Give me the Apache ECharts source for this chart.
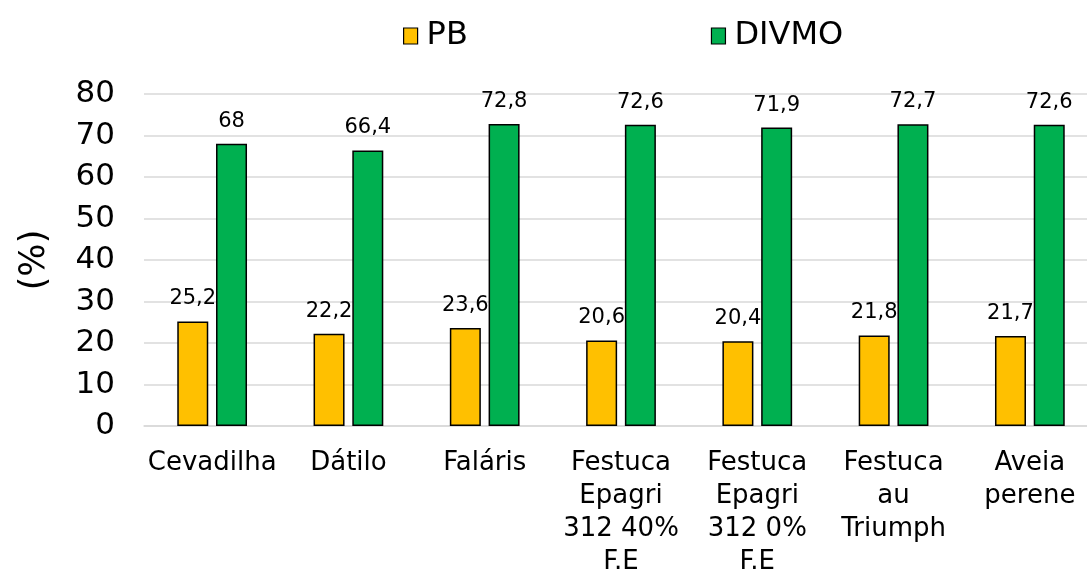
<!DOCTYPE html>
<html>
<head>
<meta charset="utf-8">
<script src="https://cdn.jsdelivr.net/npm/echarts@6/dist/echarts.min.js"></script>
<style>
  html, body { margin: 0; padding: 0; background: #fff; }
  #chart { width: 1087px; height: 569px; }
</style>
</head>
<body>
<div id="chart"></div>
<script>
const categories = [
  'Cevadilha',
  'Dátilo',
  'Faláris',
  'Festuca\nEpagri\n312 40%\nF.E',
  'Festuca\nEpagri\n312 0%\nF.E',
  'Festuca\nau\nTriumph',
  'Aveia\nperene',
]
const pb = [25.2, 22.2, 23.6, 20.6, 20.4, 21.8, 21.7]
const divmo = [68, 66.4, 72.8, 72.6, 71.9, 72.7, 72.6]
const yTicks = { min: 0, max: 80, interval: 10 }

const font = '"DejaVu Sans", Verdana, sans-serif'
const fmt = (p) => String(p.value).replace('.', ',')

const chart = echarts.init(document.getElementById('chart'))

function barSeries(name, data, color) {
  return {
    name,
    type: 'bar',
    data,
    barWidth: 31,
    barGap: '25%',
    itemStyle: { color, borderColor: '#000', borderWidth: 1.5 },
    label: {
      show: true,
      position: 'top',
      distance: 12,
      formatter: fmt,
      color: '#000',
      fontFamily: font,
      fontSize: 21,
    },
  }
}

chart.setOption({
  animation: false,
  textStyle: { fontFamily: font },
  legend: {
    left: 398,
    top: 15,
    itemGap: 243,
    itemWidth: 14,
    itemHeight: 16,
    icon: 'rect',
    itemStyle: { borderColor: '#000', borderWidth: 1.2 },
    textStyle: { fontFamily: font, fontSize: 32, color: '#000', padding: [0, 0, 0, 4] },
    data: ['PB', 'DIVMO'],
  },
  grid: { left: 144, right: -11, top: 94, bottom: 143, outerBoundsMode: 'none' },
  xAxis: {
    type: 'category',
    data: categories,
    axisTick: { show: false },
    axisLine: { lineStyle: { color: '#d9d9d9', width: 1.5 } },
    axisLabel: {
      color: '#000',
      fontFamily: font,
      fontSize: 26,
      lineHeight: 33,
      margin: 21,
      interval: 0,
    },
  },
  yAxis: {
    type: 'value',
    min: yTicks.min,
    max: yTicks.max,
    interval: yTicks.interval,
    name: '(%)',
    nameLocation: 'middle',
    nameRotate: 90,
    nameGap: 92,
    nameTextStyle: { color: '#000', fontFamily: font, fontSize: 35 },
    axisLine: { show: false },
    axisTick: { show: false },
    axisLabel: { color: '#000', fontFamily: font, fontSize: 31, margin: 29 },
    splitLine: { lineStyle: { color: '#d9d9d9', width: 1.5 } },
  },
  series: [
    barSeries('PB', pb, '#ffc000'),
    barSeries('DIVMO', divmo, '#00b050'),
  ],
})
</script>
</body>
</html>
